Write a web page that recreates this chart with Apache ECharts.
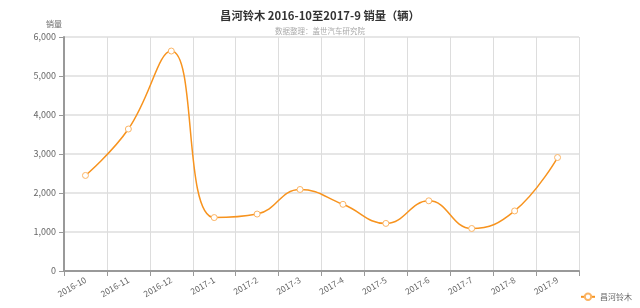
<!DOCTYPE html>
<html><head><meta charset="utf-8">
<script src="https://cdn.jsdelivr.net/npm/echarts@6/dist/echarts.min.js"></script>
<style>html,body{margin:0;padding:0;background:#fff}#c{width:640px;height:308px}</style>
</head><body><div id="c"></div>
<script>
var categories = ['2016-10','2016-11','2016-12','2017-1','2017-2','2017-3','2017-4','2017-5','2017-6','2017-7','2017-8','2017-9'];
var sales = [2450, 3640, 5640, 1370, 1460, 2090, 1710, 1220, 1800, 1090, 1540, 2910];
var yTicks = [0, 1000, 2000, 3000, 4000, 5000, 6000];
var seriesName = '昌河铃木';
var font = '"Noto Sans CJK SC", "Noto Sans", sans-serif';
var chart = echarts.init(document.getElementById('c'));
chart.setOption({
  animation: false,
  textStyle: {fontFamily: font},
  title: {
    text: '昌河铃木 2016-10至2017-9 销量（辆）',
    subtext: '数据整理：盖世汽车研究院',
    left: 'center', top: 4, itemGap: 4,
    textStyle: {fontSize: 11.3, fontWeight: 'bold', color: '#333', fontFamily: font, lineHeight: 14},
    subtextStyle: {fontSize: 7.5, color: '#aaa', fontFamily: font, lineHeight: 9}
  },
  legend: {
    data: [seriesName], right: 3, bottom: 2, itemWidth: 14, itemHeight: 8, itemGap: 4,
    textStyle: {fontSize: 8, color: '#666', fontFamily: font}
  },
  grid: {left: 64, right: 61, top: 37, bottom: 37, containLabel: false},
  xAxis: {
    type: 'category', data: categories, boundaryGap: true,
    axisLine: {lineStyle: {color: '#999', width: 2}},
    axisTick: {show: true, lineStyle: {color: '#999'}},
    axisLabel: {rotate: 30, fontSize: 8.5, color: '#666', margin: 8, interval: 0},
    splitLine: {show: true, lineStyle: {color: '#ddd'}}
  },
  yAxis: {
    type: 'value', min: 0, max: 6000, interval: 1000,
    name: '销量', nameGap: 9,
    nameTextStyle: {fontSize: 8, color: '#666', align: 'right', padding: [0, 2, 0, 0]},
    axisLine: {show: true, lineStyle: {color: '#999', width: 2}},
    axisTick: {show: true, lineStyle: {color: '#999'}},
    axisLabel: {fontSize: 9, color: '#666', margin: 8},
    splitLine: {show: true, lineStyle: {color: '#e6e6e6', width: 2}}
  },
  series: [{
    name: seriesName, type: 'line', data: sales, smooth: 0.45,
    symbol: 'circle', symbolSize: 6,
    lineStyle: {color: '#f7931e', width: 1.5},
    itemStyle: {color: '#fff', borderColor: '#fbb464', borderWidth: 1}
  }]
});
</script></body></html>
